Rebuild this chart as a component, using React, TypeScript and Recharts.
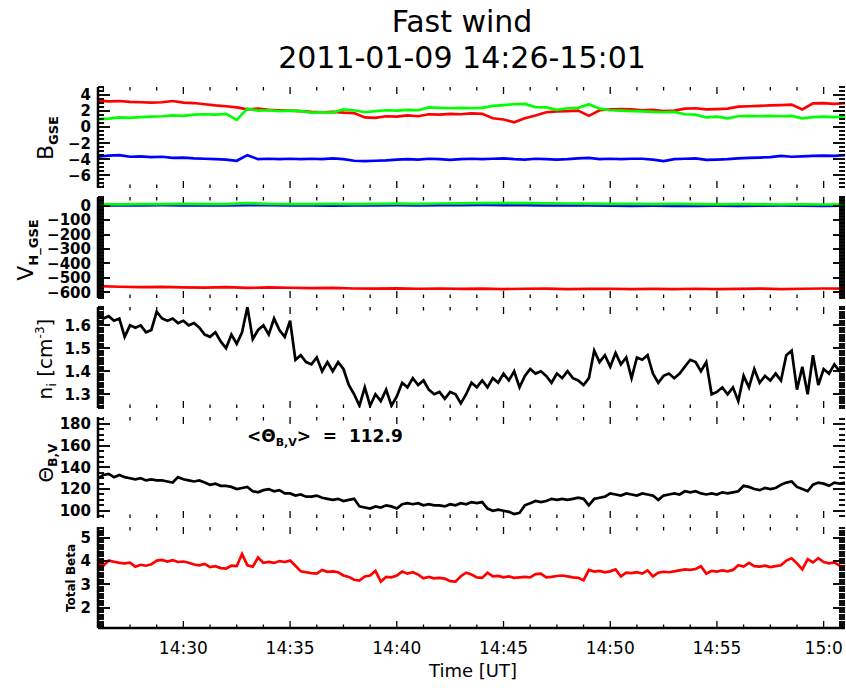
import { LineChart, Line, XAxis, YAxis, ReferenceLine } from "recharts"

// time is minutes after 14:26 UT
const timeTicks = [4, 9, 14, 19, 24, 29, 34]
const timeLabels = ["14:30", "14:35", "14:40", "14:45", "14:50", "14:55", "15:0"]

// B_GSE [nT], every 30 s
const bRed = [3.3, 3.2, 3.25, 3.15, 3.1, 3.05, 3.1, 3.25, 3.05, 3.0, 2.85, 2.7, 2.6, 2.45, 2.2, 2.3, 2.15, 2.1, 2.05, 2.0,
  1.9, 1.85, 1.9, 1.8, 1.75, 1.2, 1.15, 1.35, 1.3, 1.45, 1.35, 1.6, 1.55, 1.65, 1.6, 1.7, 1.65, 1.1, 0.95, 0.6,
  1.1, 1.45, 1.85, 1.95, 2.0, 2.05, 1.4, 2.1, 2.2, 2.25, 2.2, 2.1, 2.15, 2.0, 2.05, 2.3, 2.35, 2.2, 2.25, 2.3,
  2.55, 2.6, 2.65, 2.7, 2.75, 2.8, 2.2, 2.95, 3.0, 2.9, 3.0]
const bGreen = [1.0, 1.05, 1.2, 1.15, 1.25, 1.3, 1.35, 1.45, 1.4, 1.55, 1.6, 1.55, 1.65, 0.9, 2.3, 2.05, 2.1, 2.0, 2.05, 2.0,
  1.8, 1.85, 1.8, 2.2, 2.1, 1.85, 2.0, 2.1, 2.05, 2.15, 2.1, 2.45, 2.4, 2.35, 2.4, 2.35, 2.4, 2.65, 2.75, 2.85,
  2.9, 2.5, 2.45, 2.15, 2.35, 2.4, 2.85, 2.3, 2.1, 2.05, 2.0, 1.95, 1.9, 1.85, 1.9, 1.6, 1.55, 1.2, 1.3, 1.1,
  1.35, 1.4, 1.35, 1.4, 1.35, 1.4, 1.1, 1.25, 1.3, 1.25, 1.3]
const bBlue = [-3.7, -3.55, -3.5, -3.7, -3.65, -3.75, -3.7, -3.85, -3.8, -3.9, -3.95, -4.0, -4.05, -4.2, -3.5, -4.0, -3.95, -4.0, -3.95, -4.0,
  -3.95, -4.0, -3.9, -4.0, -4.2, -4.25, -4.2, -4.15, -4.05, -4.0, -4.05, -3.95, -4.0, -4.1, -4.0, -3.95, -4.0, -3.95, -3.9, -4.0,
  -4.05, -3.95, -4.0, -4.05, -4.0, -3.9, -3.85, -4.0, -3.95, -4.0, -3.95, -3.95, -4.05, -4.25, -4.0, -3.95, -3.9, -4.1, -4.05, -4.0,
  -3.9, -3.85, -3.8, -3.75, -3.6, -3.7, -3.65, -3.6, -3.55, -3.6, -3.5]

// V_H_GSE [km/s], every 60 s
const vRed = [-558, -562, -565, -563, -566, -568, -565, -570, -567, -569, -572, -570, -574, -575, -573, -576, -574, -577,
  -575, -578, -576, -575, -578, -577, -576, -579, -577, -578, -576, -579, -577, -575, -578, -576, -574, -575]
const vGreen = [10, 9, 11, 10, 12, 11, 10, 18, 12, 11, 10, 12, 11, 13, 14, 13, 15, 16, 17, 18, 17, 16, 15, 14, 13, 12,
  11, 12, 10, 9, 10, 9, 8, 9, 8, 9]
const vBlue = [2, 1, 2, 3, 2, 1, 2, 4, 3, 2, 1, 0, 1, 2, 3, 2, 4, 3, 5, 4, 3, 2, 1, 2, 0, -1, 0, -2, -1, 0, -1, 0, 1, 0, -1, 0]

// every 15 s
const density = [1.64, 1.63, 1.64, 1.62, 1.63, 1.55, 1.60, 1.59, 1.60, 1.57, 1.58, 1.66, 1.63, 1.62, 1.63, 1.61,
  1.62, 1.60, 1.61, 1.59, 1.56, 1.55, 1.57, 1.53, 1.50, 1.56, 1.52, 1.57, 1.68, 1.54, 1.58, 1.60,
  1.56, 1.63, 1.58, 1.55, 1.62, 1.45, 1.47, 1.44, 1.43, 1.46, 1.40, 1.44, 1.40, 1.44, 1.41, 1.34,
  1.30, 1.25, 1.33, 1.25, 1.30, 1.27, 1.32, 1.25, 1.29, 1.35, 1.33, 1.37, 1.34, 1.36, 1.32, 1.30,
  1.31, 1.28, 1.31, 1.30, 1.26, 1.30, 1.35, 1.33, 1.36, 1.33, 1.37, 1.35, 1.39, 1.36, 1.40, 1.33,
  1.38, 1.41, 1.39, 1.40, 1.38, 1.35, 1.39, 1.37, 1.40, 1.37, 1.36, 1.34, 1.37, 1.49, 1.44, 1.47,
  1.42, 1.48, 1.43, 1.46, 1.37, 1.46, 1.45, 1.47, 1.39, 1.35, 1.38, 1.39, 1.37, 1.39, 1.42, 1.45,
  1.44, 1.40, 1.44, 1.30, 1.31, 1.33, 1.30, 1.33, 1.27, 1.38, 1.33, 1.41, 1.35, 1.38, 1.36, 1.39,
  1.36, 1.47, 1.49, 1.32, 1.42, 1.30, 1.47, 1.34, 1.41, 1.39, 1.43, 1.40, 1.41]
const thetaBV = [130, 133, 134, 131, 133, 131, 130, 129, 130, 128, 129, 128, 128, 127, 126, 131,
  129, 128, 127, 128, 126, 124, 125, 123, 123, 122, 120, 121, 122, 118, 117, 119,
  120, 118, 119, 116, 116, 114, 115, 113, 113, 114, 112, 111, 110, 111, 109, 110,
  111, 104, 103, 102, 104, 103, 105, 104, 102, 106, 107, 106, 107, 105, 106, 105,
  105, 104, 106, 105, 107, 106, 108, 107, 108, 102, 100, 101, 100, 99, 97, 98,
  105, 107, 109, 108, 109, 111, 110, 111, 110, 111, 112, 111, 105, 111, 112, 113,
  116, 115, 114, 116, 115, 114, 116, 115, 114, 110, 114, 115, 116, 115, 118, 117,
  118, 116, 115, 116, 115, 117, 116, 117, 118, 123, 122, 120, 119, 121, 120, 121,
  124, 126, 127, 122, 120, 118, 124, 126, 125, 123, 126, 125, 126]
const totalBeta = [3.95, 3.80, 4.02, 3.97, 3.92, 3.90, 3.93, 3.76, 3.84, 3.80, 3.86, 4.02, 4.05, 3.98, 4.04, 3.96,
  3.98, 3.93, 3.85, 3.82, 3.88, 3.74, 3.78, 3.70, 3.68, 3.80, 3.78, 4.30, 3.82, 3.76, 4.15, 3.92,
  3.96, 3.92, 4.00, 3.96, 4.02, 3.80, 3.56, 3.52, 3.48, 3.46, 3.62, 3.54, 3.56, 3.52, 3.38, 3.32,
  3.20, 3.16, 3.34, 3.38, 3.58, 3.12, 3.32, 3.30, 3.38, 3.55, 3.46, 3.52, 3.42, 3.26, 3.32, 3.26,
  3.28, 3.25, 3.14, 3.12, 3.35, 3.50, 3.42, 3.30, 3.28, 3.50, 3.34, 3.36, 3.30, 3.34, 3.28, 3.30,
  3.32, 3.30, 3.44, 3.46, 3.30, 3.32, 3.36, 3.38, 3.34, 3.30, 3.28, 3.18, 3.62, 3.55, 3.58, 3.52,
  3.56, 3.64, 3.34, 3.50, 3.48, 3.52, 3.46, 3.60, 3.34, 3.50, 3.54, 3.52, 3.56, 3.60, 3.64, 3.62,
  3.66, 3.78, 3.46, 3.58, 3.55, 3.60, 3.56, 3.62, 3.82, 3.76, 3.92, 3.78, 3.76, 3.80, 3.74, 3.78,
  3.82, 4.02, 4.12, 3.90, 3.64, 4.08, 3.94, 4.12, 3.96, 3.90, 3.94, 3.80, 3.78]

// y axis major ticks
const bTicks = [4, 2, 0, -2, -4, -6]
const bTickLabels = ["4", "2", "0", "−2", "−4", "−6"]
const vTicks = [0, -100, -200, -300, -400, -500, -600]
const vTickLabels = ["0", "−100", "−200", "−300", "−400", "−500", "−600"]
const nTicks = [1.6, 1.5, 1.4, 1.3]
const nTickLabels = ["1.6", "1.5", "1.4", "1.3"]
const thetaTicks = [180, 160, 140, 120, 100]
const thetaTickLabels = ["180", "160", "140", "120", "100"]
const betaTicks = [5, 4, 3, 2]
const betaTickLabels = ["5", "4", "3", "2"]

const T_END = 35
const PLOT_H = 101
const PLOT_LEFT = 98
const PLOT_RIGHT = 845
const PAD = 8

const grid = (lo: number, hi: number, step: number) => {
  const out: number[] = []
  for (let i = 0; lo + i * step <= hi + 1e-9; i++) out.push(Math.round((lo + i * step) * 1000) / 1000)
  return out
}
const findMajor = (v: number, majors: number[]) => majors.findIndex((m) => Math.abs(m - v) < 1e-6)

const xMinor = grid(0.25, T_END, 1.25)
const bMinor = grid(-7.5, 5, 0.5)
const vMinor = grid(-640, 60, 10)
const nMinor = grid(1.24, 1.68, 0.01)
const thetaMinor = grid(95, 185, 5)
const betaMinor = grid(1.2, 5.4, 0.1)
const frame = { stroke: "#000", strokeWidth: 2.5 }

type Axis = { top: number; domain: [number, number]; minor: number[]; majors: number[]; labels: string[] }
const bAxis: Axis = { top: 87, domain: [-7.6, 5], minor: bMinor, majors: bTicks, labels: bTickLabels }
const vAxis: Axis = { top: 197, domain: [-640, 60], minor: vMinor, majors: vTicks, labels: vTickLabels }
const nAxis: Axis = { top: 307, domain: [1.24, 1.68], minor: nMinor, majors: nTicks, labels: nTickLabels }
const thetaAxis: Axis = { top: 417, domain: [93.3, 186.5], minor: thetaMinor, majors: thetaTicks, labels: thetaTickLabels }
const betaAxis: Axis = { top: 527, domain: [1.13, 5.46], minor: betaMinor, majors: betaTicks, labels: betaTickLabels }
const axes = [bAxis, vAxis, nAxis, thetaAxis, betaAxis]

function XLabel(props: any) {
  const { x, y, payload } = props
  const idx = findMajor(Number(payload.value), timeTicks)
  if (idx < 0) return <g />
  return (
    <text x={x} y={Number(y) + 26} textAnchor="middle" fontFamily="DejaVu Sans" fontSize={17} fill="#000">
      {timeLabels[idx]}
    </text>
  )
}

function YLabel(props: any) {
  const { x, y, payload, labels, majors } = props
  const idx = findMajor(Number(payload.value), majors)
  if (idx < 0) return <g />
  return (
    <text x={Number(x) - 7} y={y} dy="0.36em" textAnchor="end" fontFamily="DejaVu Sans" fontWeight="bold" fontSize={15} fill="#000">
      {labels[idx]}
    </text>
  )
}

type Series = { key: string; color: string }

function Panel({ axis, data, series, last = false }: { axis: Axis; data: any[]; series: Series[]; last?: boolean }) {
  const { top, domain, minor, majors, labels } = axis
  const extra = last ? 40 : 0
  const perPxY = (domain[1] - domain[0]) / PLOT_H
  const refProps = { xAxisId: "x", yAxisId: "y", stroke: "#000", strokeWidth: 1.3, ifOverflow: "visible" as const }
  const xTickMarks = xMinor.flatMap((t) => {
    const len = (findMajor(t, timeTicks) >= 0 ? 7 : 3.5) * perPxY
    return [
      <ReferenceLine key={`b${t}`} {...refProps} segment={[{ x: t, y: domain[0] }, { x: t, y: domain[0] + len }]} />,
      <ReferenceLine key={`t${t}`} {...refProps} segment={[{ x: t, y: domain[1] - len }, { x: t, y: domain[1] }]} />,
    ]
  })
  return (
    <div style={{ position: "absolute", left: 0, top: top - PAD }}>
      <LineChart width={846} height={PLOT_H + 2 * PAD + extra} data={data} margin={{ top: PAD, right: 846 - PLOT_RIGHT, bottom: PAD, left: 0 }}>
        <XAxis xAxisId="x" dataKey="t" type="number" domain={[0, T_END]} allowDataOverflow ticks={xMinor} interval={0}
          height={extra} tickSize={0} tickMargin={0} tickLine={false} axisLine={frame}
          tick={last ? (p: any) => <XLabel {...p} /> : false} />
        <XAxis xAxisId="xt" orientation="top" dataKey="t" type="number" domain={[0, T_END]} allowDataOverflow
          height={0} tick={false} tickLine={false} axisLine={frame} />
        <YAxis yAxisId="y" type="number" domain={domain} allowDataOverflow ticks={minor} interval={0} width={PLOT_LEFT}
          tickSize={0} tickMargin={0} tickLine={false} axisLine={frame}
          tick={(p: any) => <YLabel {...p} majors={majors} labels={labels} />} />
        <YAxis yAxisId="yr" orientation="right" type="number" domain={domain} allowDataOverflow
          width={0} tick={false} tickLine={false} axisLine={frame} />
        {xTickMarks}
        {series.map((s) => (
          <Line key={s.key} xAxisId="x" yAxisId="y" type="linear" dataKey={s.key} stroke={s.color}
            strokeWidth={2.7} dot={false} activeDot={false} isAnimationActive={false} />
        ))}
      </LineChart>
    </div>
  )
}

// inward y tick combs on both sides of every frame, same linear map as the y axes
function yCombRects(prefix: string) {
  const marks: any[] = []
  axes.forEach((a, k) => {
    const span = a.domain[1] - a.domain[0]
    a.minor.forEach((v, i) => {
      const py = Math.round(a.top + ((a.domain[1] - v) / span) * PLOT_H)
      const len = findMajor(v, a.majors) >= 0 ? 12 : 6
      marks.push(<rect key={`${prefix}l${k}-${i}`} x={PLOT_LEFT} y={py - 0.75} width={len} height={1.5} fill="#000" />)
      marks.push(<rect key={`${prefix}r${k}-${i}`} x={PLOT_RIGHT - len} y={py - 0.75} width={len} height={1.5} fill="#000" />)
    })
  })
  return marks
}

const bData = bRed.map((v, i) => ({ t: i * 0.5, red: v, green: bGreen[i], blue: bBlue[i] }))
const vData = vRed.map((v, i) => ({ t: i, red: v, green: vGreen[i], blue: vBlue[i] }))
const nData = density.map((v, i) => ({ t: i * 0.25, n: v }))
const thetaData = thetaBV.map((v, i) => ({ t: i * 0.25, theta: v }))
const betaData = totalBeta.map((v, i) => ({ t: i * 0.25, beta: v }))

const rgb: Series[] = [
  { key: "red", color: "#ff0000" },
  { key: "blue", color: "#0000ff" },
  { key: "green", color: "#00ff00" },
]

export default function App() {
  return (
    <div style={{ position: "absolute", left: 0, top: 0, width: 846, height: 688, overflow: "hidden", background: "#fff" }}>
      <svg width={846} height={688} style={{ position: "absolute", left: 0, top: 0 }}>
        <text x={462} y={32} textAnchor="middle" fontFamily="DejaVu Sans" fontSize={30} fill="#000">Fast wind</text>
        <text x={462} y={68} textAnchor="middle" fontFamily="DejaVu Sans" fontSize={30} fill="#000">2011-01-09 14:26-15:01</text>

        <text transform="rotate(-90 53 138)" x={53} y={138} textAnchor="middle" fontFamily="DejaVu Sans" fontSize={22} fill="#000">
          B<tspan fontSize={13} fontWeight="bold" dy={5}>GSE</tspan>
        </text>
        <text transform="rotate(-90 33 250)" x={33} y={250} textAnchor="middle" fontFamily="DejaVu Sans" fontSize={22} fill="#000">
          V<tspan fontSize={13} fontWeight="bold" dy={5}>H_GSE</tspan>
        </text>
        <text transform="rotate(-90 52 359)" x={52} y={359} textAnchor="middle" fontFamily="DejaVu Sans" fontSize={20} fill="#000">
          n<tspan fontSize={13} dy={4}>i</tspan>
          <tspan dy={-4}>{"\u00a0[cm"}</tspan>
          <tspan fontSize={12} dy={-8}>-3</tspan>
          <tspan dy={8}>]</tspan>
        </text>
        <text transform="rotate(-90 53 463)" x={53} y={463} textAnchor="middle" fontFamily="DejaVu Sans" fontSize={20} fill="#000">
          Θ<tspan fontSize={12} fontWeight="bold" dy={4}>B,V</tspan>
        </text>
        <text transform="rotate(-90 75 578)" x={75} y={578} textAnchor="middle" fontFamily="DejaVu Sans" fontWeight="bold" fontSize={12} fill="#000">
          Total Beta
        </text>

        <text x={247} y={442} fontFamily="DejaVu Sans" fontWeight="bold" fontSize={17} fill="#000">
          {"<Θ"}<tspan fontSize={11} dy={4}>B,V</tspan>
          <tspan dy={-4}>{">\u00a0\u00a0=\u00a0\u00a0112.9"}</tspan>
        </text>

        <text x={473} y={677} textAnchor="middle" fontFamily="DejaVu Sans" fontSize={18} fill="#000">Time [UT]</text>
        {yCombRects("a")}
      </svg>

      <Panel axis={bAxis} data={bData} series={rgb} />
      <Panel axis={vAxis} data={vData} series={rgb} />
      <Panel axis={nAxis} data={nData} series={[{ key: "n", color: "#000" }]} />
      <Panel axis={thetaAxis} data={thetaData} series={[{ key: "theta", color: "#000" }]} />
      <Panel axis={betaAxis} data={betaData} series={[{ key: "beta", color: "#ff0000" }]} last />
      <svg width={846} height={688} style={{ position: "absolute", left: 0, top: 0, pointerEvents: "none" }}>
        {yCombRects("b")}
      </svg>
    </div>
  )
}
